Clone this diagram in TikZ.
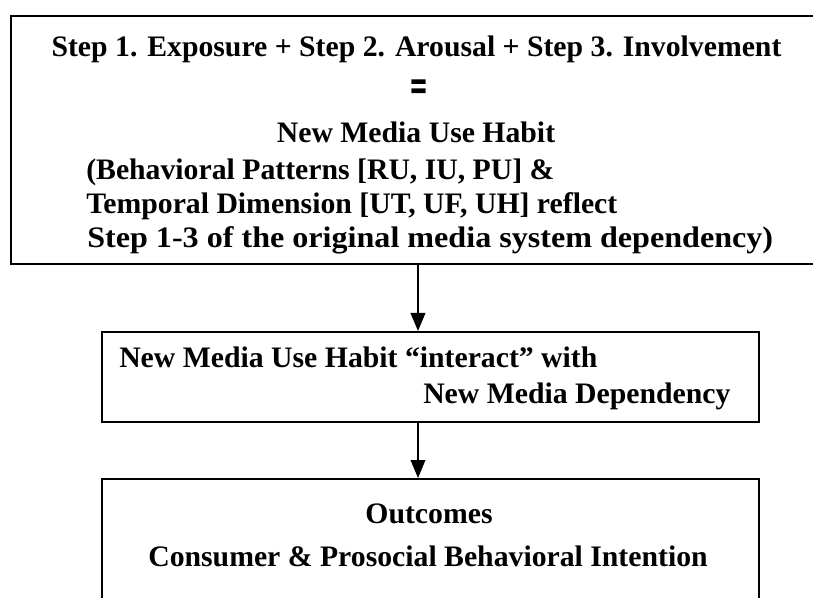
\documentclass[tikz,border=0pt]{standalone}
\usepackage{fontspec}
\setmainfont{Liberation Serif}
\newfontfamily\eqfont{DejaVu Sans}
\usepackage{tikz}
\usetikzlibrary{arrows.meta}

\begin{document}
\begin{tikzpicture}[x=0.75pt, y=-0.75pt,
  box/.style={draw, line width=1.2pt, inner sep=0pt, anchor=north west},
  txt/.style={font=\bfseries\fontsize{22.3}{26}\selectfont, inner sep=0pt},
  flow/.style={line width=1.2pt, -{Triangle[length=13.5pt, width=11pt]}}]
\useasboundingbox (0,0) rectangle (813,598);
\clip (0,0) rectangle (813,598);
\coordinate (axis) at (418,0);
\node[box, minimum width=630pt, minimum height=186pt] (steps) at (10,15) {};
\node[box, minimum width=492.75pt, minimum height=67.5pt] (inter) at (101,331) {};
\node[box, minimum width=492.75pt, minimum height=105pt] (outc) at (101,478) {};
\node[txt, anchor=base] (sum) at (416.5,57) {Step 1. Exposure + Step 2. Arousal + Step 3. Involvement};
\node[txt, font=\eqfont\bfseries\fontsize{17}{18}\selectfont] (eq) at (419,90) {\scalebox{1}[1.8]{=}};
\node[txt, anchor=base] (habit) at (416,143) {New Media Use Habit};
\foreach \nm/\yy/\txt in {pat/180/{(Behavioral Patterns [RU, IU, PU] \&},
    tmp/214/{Temporal Dimension [UT, UF, UH] reflect}}
  \node[txt, anchor=base west] (\nm) at (86,\yy) {\txt};
\node[txt, anchor=base west] (stp) at (87,248)
  {\scalebox{1.08}[1]{Step 1-3 of the original media system dependency)}};
\node[txt, anchor=base west] (use) at (119,367) {New Media Use Habit ``interact'' with};
\node[txt, anchor=base west] (dep) at (423,403) {New Media Dependency};
\node[txt, anchor=base] (res) at (429,523) {Outcomes};
\node[txt, anchor=base] (cons) at (428,566) {Consumer \& Prosocial Behavioral Intention};
\draw[flow] (steps.south -| axis) -- (inter.north -| axis);
\draw[flow] (inter.south -| axis) -- (outc.north -| axis);
\end{tikzpicture}
\end{document}
